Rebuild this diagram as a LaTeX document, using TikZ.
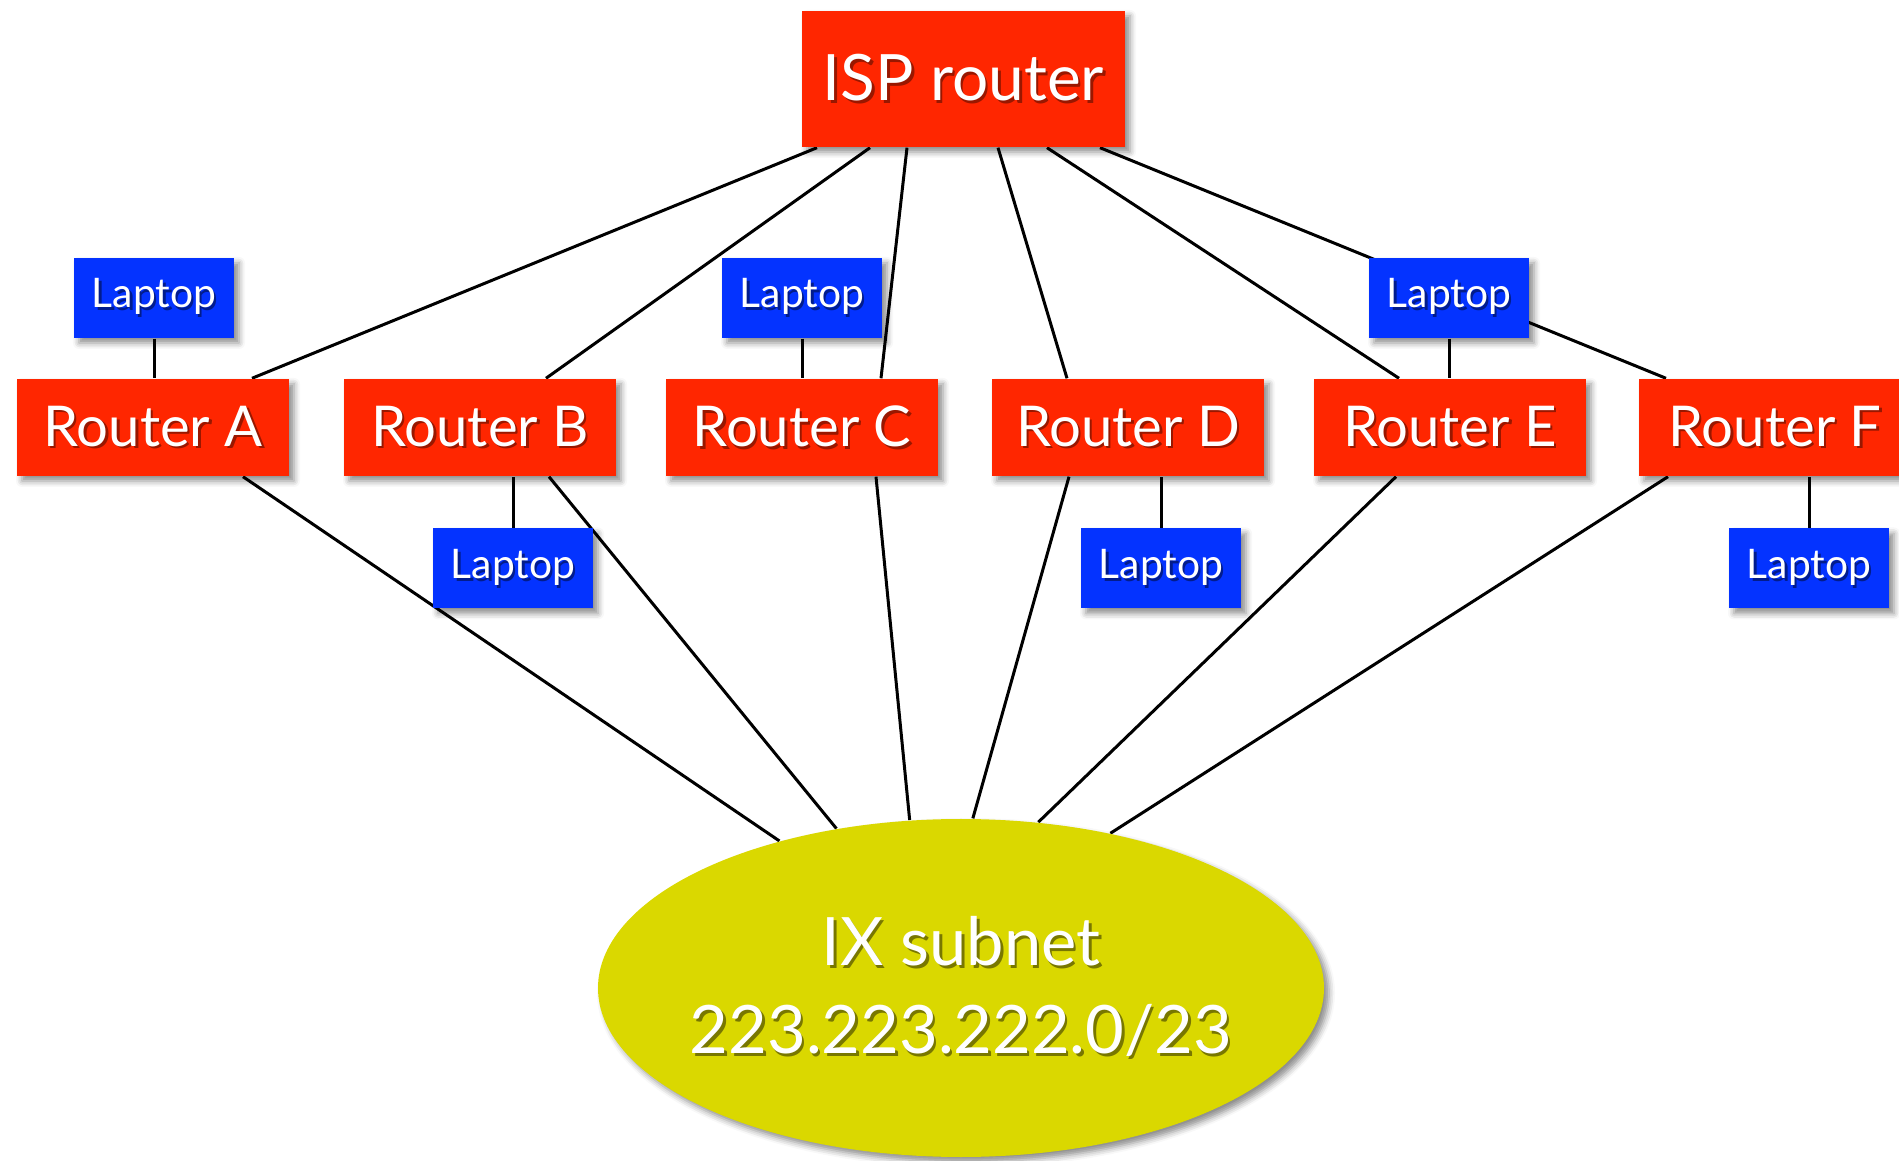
\documentclass[tikz,border=0pt]{standalone}
\usepackage{fontspec}
\setmainfont{Lato}
\usetikzlibrary{calc,positioning,shapes.geometric,shadows.blur,backgrounds}

% Colours of the boxes
\definecolor{r255g38b0}{rgb}{1.000000,0.149000,0.000000}
\definecolor{r4g51b255}{rgb}{0.016000,0.200000,1.000000}
\definecolor{r218g216b0}{rgb}{0.855000,0.847000,0.000000}

% White text with a small dark copy behind it
\newcommand{\shtext}[1]{\leavevmode\rlap{\hspace{0.7pt}\raisebox{-0.8pt}{\textcolor{shcol}{#1}}}#1}

\tikzset{
  boxshadow/.style={blur shadow={shadow xshift=0.05cm,shadow yshift=-0.05cm,shadow blur radius=0.06cm,shadow opacity=45}},
  isp/.style={fill=r255g38b0,text=white,inner sep=0pt,minimum width=3.23cm,minimum height=1.36cm,
    font=\fontsize{18.2}{22}\selectfont,boxshadow,
    execute at begin node={\colorlet{shcol}{r255g38b0!60!black}}},
  router/.style={fill=r255g38b0,text=white,inner sep=0pt,minimum width=2.72cm,minimum height=0.97cm,
    font=\fontsize{16}{19}\selectfont,boxshadow,
    execute at begin node={\colorlet{shcol}{r255g38b0!60!black}}},
  laptop/.style={fill=r4g51b255,text=white,inner sep=0pt,minimum width=1.60cm,minimum height=0.80cm,
    font=\fontsize{11.6}{14}\selectfont,boxshadow,
    execute at begin node={\colorlet{shcol}{r4g51b255!55!black}}},
  subnet/.style={ellipse,fill=r218g216b0,text=white,inner sep=0pt,minimum width=7.26cm,minimum height=3.38cm,
    align=center,font=\fontsize{19}{25}\selectfont,boxshadow,
    execute at begin node={\colorlet{shcol}{r218g216b0!55!black}}},
  link/.style={line width=0.030cm,black}
}

\begin{document}
\begin{tikzpicture}
  \useasboundingbox (0,0) rectangle (18.990000,11.600000);
  \clip (0,0) rectangle (18.990000,11.600000);

  % Drawing ISP router
  \node [isp] (isp) at (9.635000,10.810000) {\shtext{ISP router}};

  % Drawing routers A to F
  \node [router] (rA) at (1.530000,7.325000) {\shtext{Router A}};
  \node [router] (rB) at (4.800000,7.325000) {\shtext{Router B}};
  \node [router] (rC) at (8.020000,7.325000) {\shtext{Router C}};
  \node [router] (rD) at (11.280000,7.325000) {\shtext{Router D}};
  \node [router] (rE) at (14.500000,7.325000) {\shtext{Router E}};
  \node [router] (rF) at (17.750000,7.325000) {\shtext{Router F}};

  % Drawing laptops
  \node [laptop] (lA) at (1.540000,8.620000) {\shtext{Laptop}};
  \node [laptop] (lB) at (5.130000,5.915000) {\shtext{Laptop}};
  \node [laptop] (lC) at (8.020000,8.620000) {\shtext{Laptop}};
  \node [laptop] (lD) at (11.610000,5.915000) {\shtext{Laptop}};
  \node [laptop] (lE) at (14.490000,8.620000) {\shtext{Laptop}};
  \node [laptop] (lF) at (18.090000,5.915000) {\shtext{Laptop}};

  % Drawing IX subnet
  \node [subnet] (ix) at (9.610000,1.720000)
    {\makebox[0pt]{\shtext{IX subnet}}\\\makebox[0pt]{\shtext{223.223.222.0/23}}};

  \begin{scope}[on background layer]
    % Drawing segments ISP router to routers
    \draw [link] ([xshift=-1.465cm]isp.south) -- ([xshift=0.990cm]rA.north);
    \draw [link] ([xshift=-0.935cm]isp.south) -- ([xshift=0.660cm]rB.north);
    \draw [link] ([xshift=-0.565cm]isp.south) -- ([xshift=0.790cm]rC.north);
    \draw [link] ([xshift=0.345cm]isp.south) -- ([xshift=-0.610cm]rD.north);
    \draw [link] ([xshift=0.835cm]isp.south) -- ([xshift=-0.510cm]rE.north);
    \draw [link] ([xshift=1.365cm]isp.south) -- ([xshift=-1.090cm]rF.north);

    % Drawing segments routers to IX subnet
    \draw [link] ([xshift=0.900cm]rA.south) -- (ix.141);
    \draw [link] ([xshift=0.690cm]rB.south) -- (ix.128);
    \draw [link] ([xshift=0.740cm]rC.south) -- (ix.107);
    \draw [link] ([xshift=-0.590cm]rD.south) -- (ix.86);
    \draw [link] ([xshift=-0.540cm]rE.south) -- (ix.65);
    \draw [link] ([xshift=-1.070cm]rF.south) -- (ix.46);

    % Drawing segments laptops to routers
    \draw [link] (lA.south) -- (lA.south |- rA.north);
    \draw [link] (lB.north) -- (lB.north |- rB.south);
    \draw [link] (lC.south) -- (lC.south |- rC.north);
    \draw [link] (lD.north) -- (lD.north |- rD.south);
    \draw [link] (lE.south) -- (lE.south |- rE.north);
    \draw [link] (lF.north) -- (lF.north |- rF.south);
  \end{scope}
\end{tikzpicture}
\end{document}
